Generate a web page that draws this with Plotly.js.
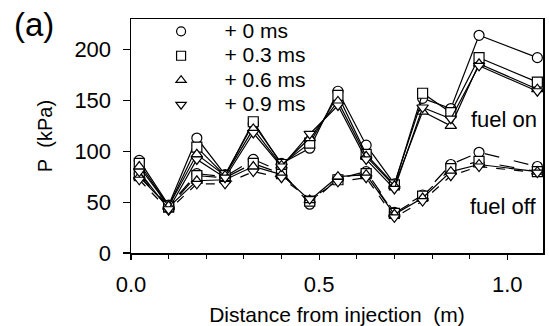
<!DOCTYPE html>
<html>
<head>
<meta charset="utf-8">
<script src="https://cdn.plot.ly/plotly-3.0.1.min.js"></script>
<style>html,body{margin:0;padding:0;background:#fff;}#chart{width:549px;height:326px;}</style>
</head>
<body>
<div id="chart"></div>
<script>
// Distance from injection (m)
const distance = [0.022, 0.1, 0.175, 0.25, 0.325, 0.4, 0.475, 0.55, 0.625, 0.7, 0.775, 0.85, 0.925, 1.08];

// Fuel on (kPa)
const on_0ms  = [91, 47, 113, 77, 127, 88, 103, 159, 106, 68, 152, 142, 214, 192];
const on_03ms = [88, 46, 104, 76, 129, 87, 108, 155, 97, 67, 157, 138, 192, 168];
const on_06ms = [85, 46, 97, 76, 122, 86, 113, 149, 95, 66, 139, 125, 186, 161];
const on_09ms = [80, 43, 92, 74, 118, 85, 117, 145, 92, 63, 143, 132, 184, 159];

// Fuel off (kPa)
const off_0ms  = [78, 46, 78, 75, 92, 80, 48, 73, 80, 40, 57, 87, 99, 85];
const off_03ms = [76, 45, 76, 74, 88, 78, 51, 72, 78, 39, 56, 83, 90, 80];
const off_06ms = [75, 45, 71, 72, 85, 77, 52, 75, 77, 38, 54, 80, 87, 80];
const off_09ms = [72, 42, 68, 68, 80, 74, 53, 70, 74, 35, 51, 76, 85, 79];

const seriesNames = ['+ 0 ms', '+ 0.3 ms', '+ 0.6 ms', '+ 0.9 ms'];
const symbols = ['circle', 'square', 'triangle-up', 'triangle-down'];
const offDash = ['longdash', 'longdash', 'solid', 'dash'];

const onSeries = [on_0ms, on_03ms, on_06ms, on_09ms];
const offSeries = [off_0ms, off_03ms, off_06ms, off_09ms];

const FONT = 'Liberation Sans, Arial, sans-serif';
const traces = [];

function markerStyle(i, size) {
  return {symbol: symbols[i], size: size, color: '#ffffff',
          line: {color: '#000000', width: 1.2}};
}

offSeries.forEach((ys, i) => {
  traces.push({x: distance, y: ys, mode: 'lines+markers', showlegend: false,
    line: {color: '#000000', width: 1.2, dash: offDash[i]}, marker: markerStyle(i, 10)});
});
onSeries.forEach((ys, i) => {
  traces.push({x: distance, y: ys, mode: 'lines+markers', showlegend: false,
    line: {color: '#000000', width: 1.2}, marker: markerStyle(i, 10)});
});
// legend entries (markers only)
seriesNames.forEach((name, i) => {
  traces.push({x: [null], y: [null], mode: 'markers',
    name: '<span style="font-size:21px">\u00a0\u00a0\u00a0\u00a0' + name + '</span>',
    marker: markerStyle(i, 9)});
});

const layout = {
  width: 549, height: 326,
  margin: {l: 131, r: 6, t: 19, b: 73},
  paper_bgcolor: '#ffffff', plot_bgcolor: '#ffffff',
  font: {family: FONT, color: '#000000', size: 20},
  showlegend: true,
  legend: {x: 0.073, y: 1.021, xanchor: 'left', yanchor: 'top', bgcolor: 'rgba(0,0,0,0)',
           font: {family: FONT, size: 16.5, color: '#000000'}, tracegroupgap: 0},
  xaxis: {
    range: [0, 1.095], tickvals: [0, 0.5, 1.0], ticktext: ['0.0', '0.5', '1.0'],
    ticks: 'outside', ticklen: 5, tickwidth: 1.2, tickcolor: '#000', ticklabelstandoff: 6,
    minor: {dtick: 0.1, tick0: 0, ticks: 'outside', ticklen: 4, tickwidth: 1, tickcolor: '#000', showgrid: false},
    showgrid: false, zeroline: false, showline: true, linecolor: '#000', linewidth: 1.5, mirror: true,
    tickfont: {family: FONT, size: 22},
    title: {text: 'Distance from injection\u00a0\u00a0(m)', font: {family: FONT, size: 21}, standoff: 14}
  },
  yaxis: {
    range: [0, 230], tickvals: [0, 50, 100, 150, 200],
    ticks: 'outside', ticklen: 7, tickwidth: 1.2, tickcolor: '#000', ticklabelstandoff: 7,
    showgrid: false, zeroline: false, showline: true, linecolor: '#000', linewidth: 1.5, mirror: true,
    tickfont: {family: FONT, size: 22},
    title: {text: 'P\u00a0\u00a0(kPa)', font: {family: FONT, size: 20}, standoff: 16}
  },
  annotations: [
    {text: 'fuel on', xref: 'paper', yref: 'paper', x: 0.99, y: 0.572, xanchor: 'right', yanchor: 'middle',
     showarrow: false, font: {family: FONT, size: 22}},
    {text: 'fuel off', xref: 'paper', yref: 'paper', x: 0.99, y: 0.2, xanchor: 'right', yanchor: 'middle',
     showarrow: false, font: {family: FONT, size: 22}},
    {text: '(a)', xref: 'paper', yref: 'paper', x: -0.29, y: 0.975, xanchor: 'left', yanchor: 'middle',
     showarrow: false, font: {family: FONT, size: 33}}
  ]
};

Plotly.newPlot('chart', traces, layout, {staticPlot: true, displayModeBar: false});
</script>
</body>
</html>
